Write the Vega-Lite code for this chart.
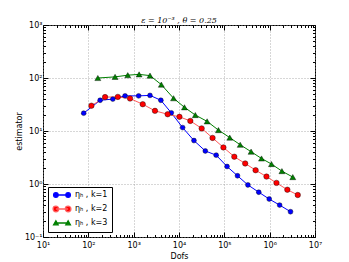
{
  "$schema": "https://vega.github.io/schema/vega-lite/v6.json",
  "width": 272,
  "height": 212,
  "autosize": "none",
  "padding": {"left": 43, "top": 25, "right": 34, "bottom": 25},
  "background": "white",
  "title": {"text": "ε = 10⁻³ ,  θ = 0.25", "font": "DejaVu Serif", "fontSize": 8, "fontWeight": "normal", "fontStyle": "italic", "offset": -4, "color": "black"},
  "config": {
    "view": {"stroke": "black", "strokeWidth": 1},
    "axis": {"labelFont": "DejaVu Sans", "titleFont": "DejaVu Sans", "labelFontSize": 8, "titleFontSize": 8, "titleFontWeight": "normal", "labelColor": "black", "titleColor": "black", "tickColor": "black", "domain": false, "labelOverlap": false, "labelBound": false, "labelFlush": false}
  },
  "data": {"values": [
    {"dofs": 79, "est": 21.7, "s": "ηₕ , k=1"},
    {"dofs": 182, "est": 38, "s": "ηₕ , k=1"},
    {"dofs": 347, "est": 40, "s": "ηₕ , k=1"},
    {"dofs": 646, "est": 46, "s": "ηₕ , k=1"},
    {"dofs": 1288, "est": 46, "s": "ηₕ , k=1"},
    {"dofs": 2291, "est": 47, "s": "ηₕ , k=1"},
    {"dofs": 3981, "est": 38, "s": "ηₕ , k=1"},
    {"dofs": 6761, "est": 22, "s": "ηₕ , k=1"},
    {"dofs": 12023, "est": 11.6, "s": "ηₕ , k=1"},
    {"dofs": 21380, "est": 6.6, "s": "ηₕ , k=1"},
    {"dofs": 38019, "est": 4.2, "s": "ηₕ , k=1"},
    {"dofs": 66069, "est": 3.5, "s": "ηₕ , k=1"},
    {"dofs": 114815, "est": 2.14, "s": "ηₕ , k=1"},
    {"dofs": 194984, "est": 1.43, "s": "ηₕ , k=1"},
    {"dofs": 331131, "est": 0.96, "s": "ηₕ , k=1"},
    {"dofs": 575440, "est": 0.70, "s": "ηₕ , k=1"},
    {"dofs": 977237, "est": 0.52, "s": "ηₕ , k=1"},
    {"dofs": 1659587, "est": 0.40, "s": "ηₕ , k=1"},
    {"dofs": 2884032, "est": 0.30, "s": "ηₕ , k=1"},
    {"dofs": 117, "est": 30, "s": "ηₕ , k=2"},
    {"dofs": 234, "est": 43.6, "s": "ηₕ , k=2"},
    {"dofs": 447, "est": 44, "s": "ηₕ , k=2"},
    {"dofs": 832, "est": 41, "s": "ηₕ , k=2"},
    {"dofs": 1585, "est": 32, "s": "ηₕ , k=2"},
    {"dofs": 2951, "est": 24, "s": "ηₕ , k=2"},
    {"dofs": 5623, "est": 20.7, "s": "ηₕ , k=2"},
    {"dofs": 10233, "est": 18.5, "s": "ηₕ , k=2"},
    {"dofs": 17783, "est": 15.5, "s": "ηₕ , k=2"},
    {"dofs": 31623, "est": 11.2, "s": "ηₕ , k=2"},
    {"dofs": 54954, "est": 7.4, "s": "ηₕ , k=2"},
    {"dofs": 95499, "est": 4.9, "s": "ηₕ , k=2"},
    {"dofs": 165959, "est": 3.27, "s": "ηₕ , k=2"},
    {"dofs": 288403, "est": 2.44, "s": "ηₕ , k=2"},
    {"dofs": 489779, "est": 1.82, "s": "ηₕ , k=2"},
    {"dofs": 851138, "est": 1.38, "s": "ηₕ , k=2"},
    {"dofs": 1412538, "est": 1.05, "s": "ηₕ , k=2"},
    {"dofs": 2454709, "est": 0.78, "s": "ηₕ , k=2"},
    {"dofs": 4168694, "est": 0.62, "s": "ηₕ , k=2"},
    {"dofs": 162, "est": 100, "s": "ηₕ , k=3"},
    {"dofs": 389, "est": 105, "s": "ηₕ , k=3"},
    {"dofs": 741, "est": 113, "s": "ηₕ , k=3"},
    {"dofs": 1318, "est": 117, "s": "ηₕ , k=3"},
    {"dofs": 2291, "est": 111, "s": "ηₕ , k=3"},
    {"dofs": 4074, "est": 75, "s": "ηₕ , k=3"},
    {"dofs": 7586, "est": 41.5, "s": "ηₕ , k=3"},
    {"dofs": 13183, "est": 28, "s": "ηₕ , k=3"},
    {"dofs": 22909, "est": 20, "s": "ηₕ , k=3"},
    {"dofs": 41687, "est": 15.2, "s": "ηₕ , k=3"},
    {"dofs": 74131, "est": 10.4, "s": "ηₕ , k=3"},
    {"dofs": 131826, "est": 7.5, "s": "ηₕ , k=3"},
    {"dofs": 223872, "est": 5.5, "s": "ηₕ , k=3"},
    {"dofs": 389045, "est": 4.07, "s": "ηₕ , k=3"},
    {"dofs": 660693, "est": 3.03, "s": "ηₕ , k=3"},
    {"dofs": 1096478, "est": 2.38, "s": "ηₕ , k=3"},
    {"dofs": 1862087, "est": 1.75, "s": "ηₕ , k=3"},
    {"dofs": 3235937, "est": 1.35, "s": "ηₕ , k=3"}
  ]},
  "layer": [
    {
      "mark": {"type": "line", "strokeWidth": 1, "clip": true},
      "encoding": {
        "x": {"field": "dofs", "type": "quantitative", "title": "Dofs",
          "scale": {"type": "log", "domain": [10, 10000000], "nice": false},
          "axis": {"orient": "bottom", "titlePadding": 1, "labelPadding": 9,
            "values": [10,20,30,40,50,60,70,80,90,100,200,300,400,500,600,700,800,900,1000,2000,3000,4000,5000,6000,7000,8000,9000,10000,20000,30000,40000,50000,60000,70000,80000,90000,100000,200000,300000,400000,500000,600000,700000,800000,900000,1000000,2000000,3000000,4000000,5000000,6000000,7000000,8000000,9000000,10000000],
            "labelExpr": "abs(log(datum.value)/LN10 - round(log(datum.value)/LN10)) < 1e-6 ? ['10⁻¹','10⁰','10¹','10²','10³','10⁴','10⁵','10⁶','10⁷'][round(log(datum.value)/LN10)+1] : ''",
            "tickSize": {"condition": {"test": "abs(log(datum.value)/LN10 - round(log(datum.value)/LN10)) < 1e-6", "value": -5}, "value": -2.5},
            "grid": true, "gridColor": "#999999", "gridDash": [1, 2], "gridWidth": 0.8,
            "gridOpacity": {"condition": {"test": "abs(log(datum.value)/LN10 - round(log(datum.value)/LN10)) < 1e-6", "value": 1}, "value": 0}}},
        "y": {"field": "est", "type": "quantitative", "title": "estimator",
          "scale": {"type": "log", "domain": [0.1, 1000], "nice": false},
          "axis": {"orient": "left", "titlePadding": 1, "labelPadding": 6,
            "values": [0.1,0.2,0.3,0.4,0.5,0.6,0.7,0.8,0.9,1,2,3,4,5,6,7,8,9,10,20,30,40,50,60,70,80,90,100,200,300,400,500,600,700,800,900,1000],
            "labelExpr": "abs(log(datum.value)/LN10 - round(log(datum.value)/LN10)) < 1e-6 ? ['10⁻¹','10⁰','10¹','10²','10³'][round(log(datum.value)/LN10)+1] : ''",
            "tickSize": {"condition": {"test": "abs(log(datum.value)/LN10 - round(log(datum.value)/LN10)) < 1e-6", "value": -5}, "value": -2.5},
            "grid": true, "gridColor": "#999999", "gridDash": [1, 2], "gridWidth": 0.8,
            "gridOpacity": {"condition": {"test": "abs(log(datum.value)/LN10 - round(log(datum.value)/LN10)) < 1e-6", "value": 1}, "value": 0}}},
        "color": {"field": "s", "type": "nominal", "legend": null,
          "scale": {"domain": ["ηₕ , k=1", "ηₕ , k=2", "ηₕ , k=3"], "range": ["#0000ff", "#ff5a5a", "#008000"]}}
      }
    },
    {
      "mark": {"type": "point", "filled": true, "opacity": 1, "stroke": "black", "strokeWidth": 0.4},
      "encoding": {
        "x": {"field": "dofs", "type": "quantitative",
          "axis": {"orient": "top", "title": null, "labels": false,
            "values": [10,20,30,40,50,60,70,80,90,100,200,300,400,500,600,700,800,900,1000,2000,3000,4000,5000,6000,7000,8000,9000,10000,20000,30000,40000,50000,60000,70000,80000,90000,100000,200000,300000,400000,500000,600000,700000,800000,900000,1000000,2000000,3000000,4000000,5000000,6000000,7000000,8000000,9000000,10000000],
            "tickSize": {"condition": {"test": "abs(log(datum.value)/LN10 - round(log(datum.value)/LN10)) < 1e-6", "value": -5}, "value": -2.5},
            "grid": false}},
        "y": {"field": "est", "type": "quantitative",
          "axis": {"orient": "right", "title": null, "labels": false,
            "values": [0.1,0.2,0.3,0.4,0.5,0.6,0.7,0.8,0.9,1,2,3,4,5,6,7,8,9,10,20,30,40,50,60,70,80,90,100,200,300,400,500,600,700,800,900,1000],
            "tickSize": {"condition": {"test": "abs(log(datum.value)/LN10 - round(log(datum.value)/LN10)) < 1e-6", "value": -5}, "value": -2.5},
            "grid": false}},
        "color": {"field": "s", "type": "nominal", "legend": null,
          "scale": {"domain": ["ηₕ , k=1", "ηₕ , k=2", "ηₕ , k=3"], "range": ["#0000ff", "#ff0000", "#008000"]}},
        "shape": {"field": "s", "type": "nominal", "legend": null,
          "scale": {"domain": ["ηₕ , k=1", "ηₕ , k=2", "ηₕ , k=3"], "range": ["circle", "circle", "triangle-up"]}},
        "size": {"field": "s", "type": "nominal", "legend": null,
          "scale": {"domain": ["ηₕ , k=1", "ηₕ , k=2", "ηₕ , k=3"], "range": [24, 36, 22]}}
      }
    },
    {
      "mark": {"type": "point", "filled": true, "opacity": 0, "strokeWidth": 1.3},
      "encoding": {
        "x": {"field": "dofs", "type": "quantitative", "axis": null},
        "y": {"field": "est", "type": "quantitative", "axis": null},
        "color": {"field": "s", "type": "nominal",
          "scale": {"domain": ["ηₕ , k=1", "ηₕ , k=2", "ηₕ , k=3"], "range": ["#0000ff", "#ff0000", "#008000"]},
          "legend": {"orient": "bottom-left", "offset": 5, "title": null, "strokeColor": "black", "fillColor": "white", "padding": 4, "cornerRadius": 0, "symbolOpacity": 1, "symbolSize": 26, "symbolOffset": 6, "labelOffset": 9, "labelFontSize": 8, "labelFont": "DejaVu Sans", "labelColor": "black", "rowPadding": 3, "symbolStrokeWidth": 1.3}},
        "stroke": {"field": "s", "type": "nominal",
          "scale": {"domain": ["ηₕ , k=1", "ηₕ , k=2", "ηₕ , k=3"], "range": ["#0000ff", "#ff6060", "#008000"]},
          "legend": {"orient": "bottom-left", "offset": 5, "title": null, "strokeColor": "black", "fillColor": "white", "padding": 4, "cornerRadius": 0, "symbolOpacity": 1, "symbolSize": 26, "symbolOffset": 6, "labelOffset": 9, "labelFontSize": 8, "labelFont": "DejaVu Sans", "labelColor": "black", "rowPadding": 3, "symbolStrokeWidth": 1.3}},
        "shape": {"field": "s", "type": "nominal",
          "scale": {"domain": ["ηₕ , k=1", "ηₕ , k=2", "ηₕ , k=3"], "range": [
            "M-2.4,0L2.4,0M-3.3,0A0.9,0.9,0,1,0,-1.5,0A0.9,0.9,0,1,0,-3.3,0ZM1.5,0A0.9,0.9,0,1,0,3.3,0A0.9,0.9,0,1,0,1.5,0Z",
            "M-2.4,0L2.4,0M-3.5,0A1.1,1.1,0,1,0,-1.3,0A1.1,1.1,0,1,0,-3.5,0ZM1.3,0A1.1,1.1,0,1,0,3.5,0A1.1,1.1,0,1,0,1.3,0Z",
            "M-2.4,0L2.4,0M-2.4,-0.9L-1.5,0.7L-3.3,0.7ZM2.4,-0.9L3.3,0.7L1.5,0.7Z"]},
          "legend": {"orient": "bottom-left", "offset": 5, "title": null, "strokeColor": "black", "fillColor": "white", "padding": 4, "cornerRadius": 0, "symbolOpacity": 1, "symbolSize": 26, "symbolOffset": 6, "labelOffset": 9, "labelFontSize": 8, "labelFont": "DejaVu Sans", "labelColor": "black", "rowPadding": 3, "symbolStrokeWidth": 1.3}}
      }
    }
  ],
  "resolve": {
    "scale": {"color": "independent", "shape": "independent", "size": "independent", "stroke": "independent"},
    "axis": {"x": "independent", "y": "independent"},
    "legend": {"color": "independent", "shape": "independent", "stroke": "independent"}
  }
}
